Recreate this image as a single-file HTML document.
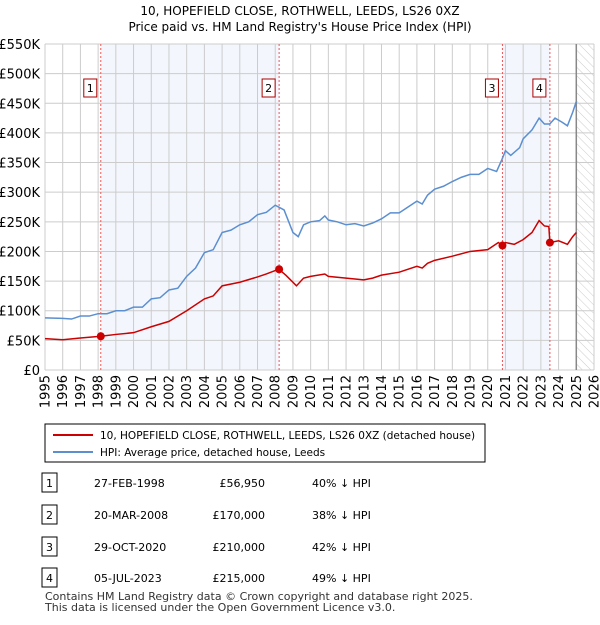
<!DOCTYPE html>
<html><head><meta charset="utf-8"><style>
body{margin:0;background:#fff;font-family:"Liberation Sans","DejaVu Sans",sans-serif;}
svg text{font-family:"DejaVu Sans","Liberation Sans",sans-serif;}
</style></head><body>
<svg width="600" height="620" viewBox="0 0 600 620">
<defs><pattern id="hatch" width="6" height="6" patternUnits="userSpaceOnUse" patternTransform="rotate(-45)"><line x1="0" y1="0" x2="0" y2="6" stroke="#ccc" stroke-width="1"/></pattern></defs>
<text x="300" y="15" text-anchor="middle" font-size="12">10, HOPEFIELD CLOSE, ROTHWELL, LEEDS, LS26 0XZ</text>
<text x="300" y="31" text-anchor="middle" font-size="12">Price paid vs. HM Land Registry's House Price Index (HPI)</text>
<g id="plot"></g>
<rect x="45" y="424" width="440" height="38" fill="#fff" stroke="#000" stroke-width="1"/>
<line x1="53" y1="435" x2="93" y2="435" stroke="#cc0000" stroke-width="2"/>
<text x="100" y="439" font-size="10.5">10, HOPEFIELD CLOSE, ROTHWELL, LEEDS, LS26 0XZ (detached house)</text>
<line x1="53" y1="452" x2="93" y2="452" stroke="#5b8fd0" stroke-width="2"/>
<text x="100" y="456" font-size="10.5">HPI: Average price, detached house, Leeds</text>
<g id="table"></g>
<text x="45" y="600" font-size="11" fill="#333">Contains HM Land Registry data © Crown copyright and database right 2025.</text>
<text x="45" y="611" font-size="11" fill="#333">This data is licensed under the Open Government Licence v3.0.</text>
</svg>
<script>
const yTicks=[0,50,100,150,200,250,300,350,400,450,500,550];
const yTickLabels=["£0","£50K","£100K","£150K","£200K","£250K","£300K","£350K","£400K","£450K","£500K","£550K"];
const xYears=[1995,1996,1997,1998,1999,2000,2001,2002,2003,2004,2005,2006,2007,2008,2009,2010,2011,2012,2013,2014,2015,2016,2017,2018,2019,2020,2021,2022,2023,2024,2025,2026];
const hpiX=[1995,1996,1996.5,1997,1997.5,1998,1998.5,1999,1999.5,2000,2000.5,2001,2001.5,2002,2002.5,2003,2003.5,2004,2004.5,2005,2005.5,2006,2006.5,2007,2007.5,2008,2008.5,2009,2009.3,2009.6,2010,2010.5,2010.8,2011,2011.5,2012,2012.5,2013,2013.5,2014,2014.5,2015,2015.5,2016,2016.3,2016.6,2017,2017.5,2018,2018.5,2019,2019.5,2020,2020.5,2020.8,2021,2021.3,2021.8,2022,2022.5,2022.9,2023.2,2023.5,2023.8,2024.2,2024.5,2024.8,2025];
const hpiY=[88,87,86,91,91,95,95,100,100,106,106,120,122,135,138,158,172,198,203,232,236,245,250,262,266,278,270,232,225,245,250,252,260,253,250,245,247,243,248,255,265,265,275,285,280,295,305,310,318,325,330,330,340,335,355,370,362,375,390,405,425,415,415,425,418,412,435,453];
const ppX=[1995,1996,1997,1998.15,1999,2000,2001,2002,2003,2004,2004.5,2005,2006,2007,2007.5,2008.2,2008.6,2009.2,2009.6,2010,2010.8,2011,2012,2013,2013.5,2014,2015,2016,2016.3,2016.6,2017,2018,2019,2020,2020.6,2020.83,2021,2021.5,2022,2022.5,2022.9,2023.2,2023.45,2023.51,2024,2024.5,2024.8,2025];
const ppY=[53,51,54,57,60,63,73,82,100,120,125,142,148,157,162,170,160,142,155,158,162,158,155,152,155,160,165,175,172,180,185,192,200,203,215,210,215,212,220,232,252,243,242,215,218,212,225,232];
const saleX=[1998.15,2008.22,2020.83,2023.51];
const saleY=[56.95,170,210,215];
const saleLabels=["1","2","3","4"];
const saleDates=["27-FEB-1998","20-MAR-2008","29-OCT-2020","05-JUL-2023"];
const salePrices=["£56,950","£170,000","£210,000","£215,000"];
const saleHpi=["40% ↓ HPI","38% ↓ HPI","42% ↓ HPI","49% ↓ HPI"];
const NS="http://www.w3.org/2000/svg";
const L=45,R=594,T=44,B=370;
const xs=v=>L+(v-1995)/(2026-1995)*(R-L);
const ys=v=>B-v/550*(B-T);
const g=document.getElementById('plot');
function mk(tag,attrs,parent){const e=document.createElementNS(NS,tag);for(const k in attrs)e.setAttribute(k,attrs[k]);(parent||g).appendChild(e);return e;}
let e;
e=mk('rect',{x:xs(saleX[0]),y:T,width:xs(saleX[1])-xs(saleX[0]),height:B-T,fill:'#eef3fc',opacity:0.7});


e=mk('rect',{x:xs(saleX[2]),y:T,width:xs(saleX[3])-xs(saleX[2]),height:B-T,fill:'#eef3fc',opacity:0.7});


e=mk('rect',{x:xs(2025),y:T,width:R-xs(2025),height:B-T,fill:'url(#hatch)'});


yTicks.forEach((t,i)=>{
 e=mk('line',{x1:L,x2:R,y1:ys(t),y2:ys(t),stroke:'#ccc','stroke-width':1});
 
 
 e=mk('text',{x:40,y:ys(t)+5,'text-anchor':'end','font-size':13});
 e.textContent=yTickLabels[i];
 
 
});
xYears.forEach(yr=>{
 e=mk('line',{x1:xs(yr),x2:xs(yr),y1:T,y2:B,stroke:'#ccc','stroke-width':1});
 
 
 const x=xs(yr)+4.5;
 e=mk('text',{x:x,y:375,'text-anchor':'end','font-size':13,transform:`rotate(-90 ${x} 375)`});
 e.textContent=yr;
 
 
});
e=mk('line',{x1:xs(2025),x2:xs(2025),y1:T,y2:B,stroke:'#888','stroke-width':1.5});


saleX.forEach((sx,i)=>{
 e=mk('line',{x1:xs(sx),x2:xs(sx),y1:T,y2:B,stroke:'#e55','stroke-width':1,'stroke-dasharray':'2,2'});
 
 
});
e=mk('polyline',{points:hpiX.map((x,i)=>xs(x)+','+ys(hpiY[i])).join(' '),fill:'none',stroke:'#5b8fd0','stroke-width':1.5});


e=mk('polyline',{points:ppX.map((x,i)=>xs(x)+','+ys(ppY[i])).join(' '),fill:'none',stroke:'#cc0000','stroke-width':1.5});


saleX.forEach((sx,i)=>{
 e=mk('circle',{cx:xs(sx),cy:ys(saleY[i]),r:4,fill:'#cc0000'});
 
 
 e=mk('rect',{x:xs(sx)-17,y:79,width:13,height:18,fill:'#fff',stroke:'#aa0000','stroke-width':1});
 
 
 e=mk('text',{x:xs(sx)-10.5,y:92,'text-anchor':'middle','font-size':11});
 e.textContent=saleLabels[i];
 
 
});
const tg=document.getElementById('table');
const rowY=[483,515,547,578];
saleLabels.forEach((lb,i)=>{
 const y=rowY[i];
 e=mk('rect',{x:42,y:y-10,width:15,height:19,fill:'#fff',stroke:'#000','stroke-width':1},tg);
 
 
 e=mk('text',{x:49.5,y:y+4,'text-anchor':'middle','font-size':11},tg);e.textContent=lb;
 
 
 e=mk('text',{x:94,y:y+4,'font-size':11},tg);e.textContent=saleDates[i];
 
 
 e=mk('text',{x:265,y:y+4,'text-anchor':'end','font-size':11},tg);e.textContent=salePrices[i];
 
 
 e=mk('text',{x:312,y:y+4,'font-size':11},tg);e.textContent=saleHpi[i];
 
 
});
</script>
</body></html>
